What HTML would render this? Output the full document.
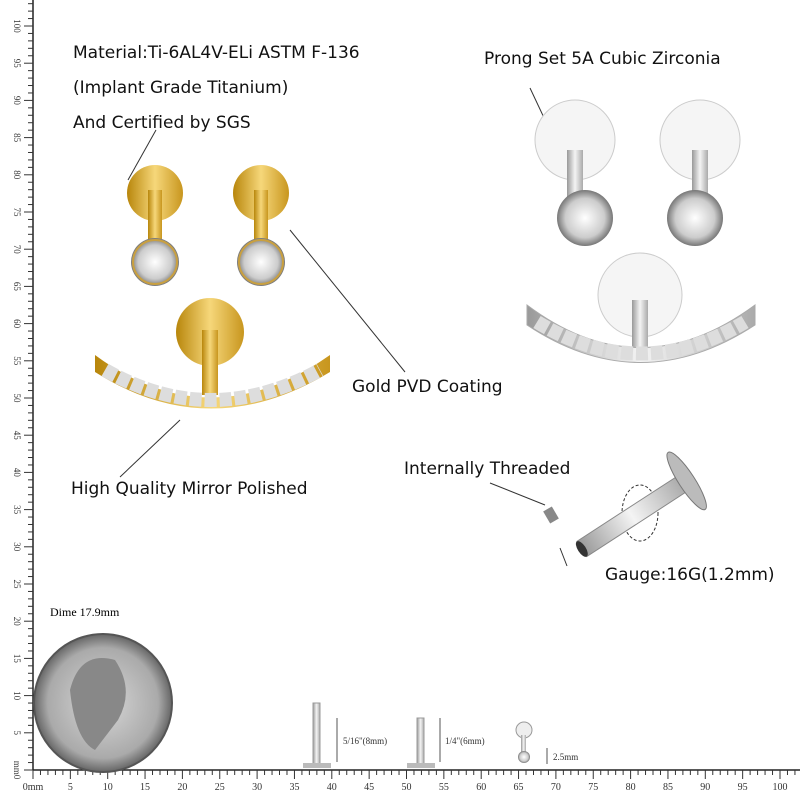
<!DOCTYPE html>
<html><head><meta charset="utf-8"><style>
body{margin:0;background:#fff}
svg{display:block}
.t{font-family:"DejaVu Sans","Liberation Sans",sans-serif;font-size:17px;fill:#111}
.r{font-family:"Liberation Serif",serif;font-size:9px;fill:#333}
</style></head><body>
<svg width="800" height="800" viewBox="0 0 800 800" xmlns="http://www.w3.org/2000/svg">
<defs>
<linearGradient id="g" x1="0" x2="1"><stop offset="0" stop-color="#b8860b"/><stop offset=".5" stop-color="#f6d77a"/><stop offset="1" stop-color="#c8961e"/></linearGradient>
<linearGradient id="s" x1="0" x2="1"><stop offset="0" stop-color="#999"/><stop offset=".5" stop-color="#f4f4f4"/><stop offset="1" stop-color="#aaa"/></linearGradient>
<radialGradient id="gem"><stop offset="0" stop-color="#fff"/><stop offset=".7" stop-color="#ccc"/><stop offset="1" stop-color="#777"/></radialGradient>
<radialGradient id="dime"><stop offset="0" stop-color="#d8d8d8"/><stop offset=".8" stop-color="#aaa"/><stop offset="1" stop-color="#666"/></radialGradient>
</defs>
<!-- rulers -->
<line x1="33" y1="0" x2="33" y2="770" stroke="#222" stroke-width="1.5"/>
<line x1="33" y1="770" x2="800" y2="770" stroke="#222" stroke-width="1.5"/>
<g id="ticks" stroke="#333" stroke-width="1"></g>
<g id="lbl"></g>
<!-- texts -->
<text class="t" x="73" y="58">Material:Ti-6AL4V-ELi ASTM F-136</text>
<text class="t" x="73" y="93">(Implant Grade Titanium)</text>
<text class="t" x="73" y="128">And Certified by SGS</text>
<text class="t" x="484" y="64">Prong Set 5A Cubic Zirconia</text>
<text class="t" x="352" y="392">Gold PVD Coating</text>
<text class="t" x="71" y="494">High Quality Mirror Polished</text>
<text class="t" x="404" y="474">Internally Threaded</text>
<text class="t" x="605" y="580">Gauge:16G(1.2mm)</text>
<text x="50" y="616" style="font-family:'Liberation Serif',serif;font-size:12px">Dime 17.9mm</text>
<!-- leader lines -->
<line x1="128" y1="180" x2="156" y2="130" stroke="#333"/>
<line x1="290" y1="230" x2="405" y2="372" stroke="#333"/>
<line x1="530" y1="88" x2="578" y2="190" stroke="#333"/>
<line x1="120" y1="477" x2="180" y2="420" stroke="#333"/>
<line x1="490" y1="483" x2="545" y2="505" stroke="#333"/>
<line x1="567" y1="566" x2="560" y2="548" stroke="#333"/>
<ellipse cx="640" cy="513" rx="18" ry="28" fill="none" stroke="#333" stroke-dasharray="3 2"/>
<!-- gold studs -->
<circle cx="155" cy="193" r="28" fill="url(#g)"/><rect x="148" y="190" width="14" height="50" fill="url(#g)"/>
<circle cx="155" cy="262" r="24" fill="url(#gem)"/><circle cx="155" cy="262" r="22" fill="none" stroke="#c9a040" stroke-width="2"/>
<circle cx="261" cy="193" r="28" fill="url(#g)"/><rect x="254" y="190" width="14" height="50" fill="url(#g)"/>
<circle cx="261" cy="262" r="24" fill="url(#gem)"/><circle cx="261" cy="262" r="22" fill="none" stroke="#c9a040" stroke-width="2"/>
<circle cx="210" cy="332" r="34" fill="url(#g)"/><rect x="202" y="330" width="16" height="65" fill="url(#g)"/>
<path d="M95 355 Q210 440 330 355 L330 372 Q210 445 95 372Z" fill="url(#g)"/>
<path d="M105 370 Q210 430 320 370" stroke="#ddd" stroke-width="14" fill="none" stroke-dasharray="12 3"/>
<!-- silver studs -->
<circle cx="575" cy="140" r="40" fill="#f5f5f5" stroke="#ccc"/><rect x="567" y="150" width="16" height="60" fill="url(#s)"/>
<circle cx="585" cy="218" r="28" fill="url(#gem)"/>
<circle cx="700" cy="140" r="40" fill="#f5f5f5" stroke="#ccc"/><rect x="692" y="150" width="16" height="60" fill="url(#s)"/>
<circle cx="695" cy="218" r="28" fill="url(#gem)"/>
<circle cx="640" cy="295" r="42" fill="#f5f5f5" stroke="#ccc"/><rect x="632" y="300" width="16" height="60" fill="url(#s)"/>
<path d="M527 305 Q640 390 755 305 L755 325 Q640 400 527 325Z" fill="url(#s)" stroke="#aaa"/>
<path d="M537 322 Q640 385 745 322" stroke="#ddd" stroke-width="14" fill="none" stroke-dasharray="12 3"/>
<!-- labret -->
<g transform="rotate(-33 640 510)"><rect x="570" y="502" width="120" height="18" fill="url(#s)" stroke="#888"/><ellipse cx="695" cy="511" rx="8" ry="34" fill="#bbb" stroke="#777"/><ellipse cx="570" cy="511" rx="4" ry="9" fill="#333"/></g>
<rect x="546" y="508" width="10" height="14" fill="#888" transform="rotate(-30 551 515)"/>
<!-- dime -->
<circle cx="103" cy="703" r="69" fill="url(#dime)" stroke="#555" stroke-width="2"/>
<path d="M70 690 Q80 650 115 660 Q135 690 118 720 L95 750 Q75 740 70 690Z" fill="#888"/>
<!-- small pins -->
<rect x="313" y="703" width="7" height="63" fill="url(#s)" stroke="#999"/><rect x="303" y="763" width="28" height="5" fill="#bbb"/>
<line x1="337" y1="718" x2="337" y2="762" stroke="#555"/><text x="343" y="744" class="r">5/16"(8mm)</text>
<rect x="417" y="718" width="7" height="48" fill="url(#s)" stroke="#999"/><rect x="407" y="763" width="28" height="5" fill="#bbb"/>
<line x1="440" y1="718" x2="440" y2="762" stroke="#555"/><text x="445" y="744" class="r">1/4"(6mm)</text>
<circle cx="524" cy="730" r="8" fill="#eee" stroke="#999"/><rect x="521" y="735" width="5" height="25" fill="url(#s)"/><circle cx="524" cy="757" r="6" fill="url(#gem)"/>
<line x1="547" y1="748" x2="547" y2="764" stroke="#555"/><text x="553" y="760" class="r">2.5mm</text>
</svg>
<script>
var t=document.getElementById('ticks'),l=document.getElementById('lbl'),ns='http://www.w3.org/2000/svg',h='',s='';
for(var i=0;i<=103;i++){var x=33+i*7.47,len=i%5?5:9;if(x>800)break;h+='<line x1="'+x+'" y1="770" x2="'+x+'" y2="'+(770+len)+'"/>';if(i%5==0)s+='<text class="r" style="font-size:10px" text-anchor="middle" x="'+x+'" y="790">'+(i==0?'0mm':i)+'</text>';}
for(var i=0;i<=103;i++){var y=770-i*7.44,len=i%5?5:9;if(y<0)break;h+='<line x1="33" y1="'+y+'" x2="'+(33-len)+'" y2="'+y+'"/>';if(i%5==0)s+='<text class="r" text-anchor="middle" transform="translate(14 '+y+') rotate(90)">'+(i==0?'mm0':i)+'</text>';}
t.innerHTML=h;l.innerHTML=s;
</script>
</body></html>
